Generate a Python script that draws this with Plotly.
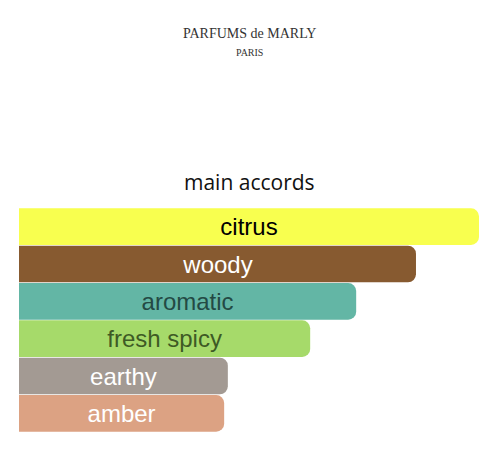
import plotly.graph_objects as go

# main accords, top to bottom
accords = ['citrus', 'woody', 'aromatic', 'fresh spicy', 'earthy', 'amber']
strength = [100, 86.3, 73.3, 63.3, 45.4, 44.6]
bar_colors = ['#F8FF4F', '#875A30', '#63B6A5', '#A6DA6A', '#A39A93', '#DCA283']
text_colors = ['#000000', '#FFFFFF', '#234A44', '#3E5A25', '#FFFFFF', '#FFFFFF']

# the page body adds an 8px margin, so the figure is sized to fit inside the window
W, H = 488, 442
M_L, M_R, M_T, M_B = 11, 17, 200, 18

fig = go.Figure()

fig.add_trace(go.Bar(
    y=accords,
    x=strength,
    orientation='h',
    marker=dict(color=bar_colors, line=dict(width=0), cornerradius=8),
    text=accords,
    textposition='inside',
    insidetextanchor='middle',
    constraintext='none',
    textfont=dict(family='Liberation Sans, Arial', size=24, color=text_colors),
    hoverinfo='skip',
))

fig.update_layout(
    width=W, height=H,
    margin=dict(l=M_L, r=M_R, t=M_T, b=M_B),
    paper_bgcolor='white',
    plot_bgcolor='white',
    showlegend=False,
    bargap=0.02,
    xaxis=dict(range=[0, 100], visible=False, fixedrange=True),
    yaxis=dict(autorange='reversed', visible=False, fixedrange=True),
)


def py(pix):
    # page pixel row -> paper y
    return (H - M_B - (pix - 8)) / (H - M_T - M_B)


def px(pix):
    return (pix - 8 - M_L) / (W - M_L - M_R)


# brand logo text
fig.add_annotation(text="PARFUMS de MARLY<br><span style='font-size:10px'>PARIS</span>",
                   x=px(249), y=py(42), xref='paper', yref='paper', yanchor='middle',
                   showarrow=False,
                   font=dict(family='Liberation Serif', size=14, color='#333333'))

fig.add_annotation(text='main accords', x=px(249), y=py(182), xref='paper', yref='paper',
                   yanchor='middle', showarrow=False,
                   font=dict(family='Open Sans', size=21, color='#111111'))

fig.write_html('out.html')
